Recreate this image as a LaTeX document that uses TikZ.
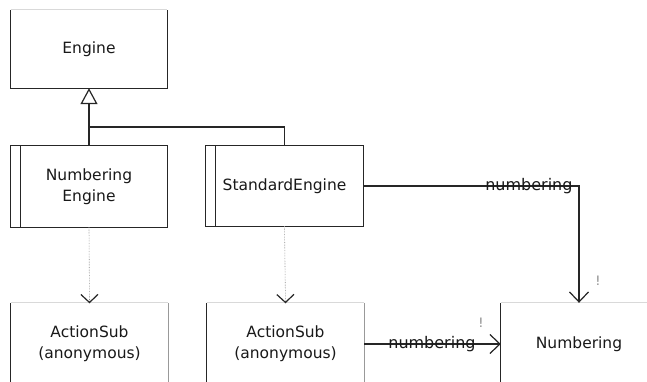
\documentclass[tikz,border=0pt]{standalone}
\usepackage{fontspec}
\setmainfont{DejaVu Sans}
\usetikzlibrary{arrows.meta}
\tikzset{
  x=1pt, y=-1pt,
  classbox/.style={draw=none, inner sep=0pt, align=center,
    font=\fontsize{15.5}{21}\selectfont, text=black!90},
  darkedge/.style={draw=black!85, line width=1.2pt},
  lightedge/.style={draw=black!15, line width=1.2pt},
  midedge/.style={draw=black!40, line width=1.2pt},
  link/.style={draw=black!85, line width=1.2pt},
  openv/.style={-{Straight Barb[length=10pt,width=19pt,line width=1.2pt,black!85]}},
  smallv/.style={-{Straight Barb[length=8pt,width=17pt,line width=1.2pt,black!85]}},
  deplink/.style={draw=black!45, line width=0.6pt, densely dotted},
  rolename/.style={inner sep=0pt, font=\fontsize{16}{19}\selectfont, text=black!90},
  multmark/.style={inner sep=0pt, font=\fontsize{13}{15}\selectfont, text=black!45},
}
\begin{document}
\begin{tikzpicture}
\useasboundingbox[fill=white] (0,0) rectangle (647,382);

% class boxes
\node[classbox, minimum width=156, minimum height=78] (eng) at (89,49) {Engine};
\node[classbox, minimum width=156, minimum height=81] (neng) at (89,186.5) {Numbering\\Engine};
\node[classbox, minimum width=157, minimum height=80] (seng) at (284.5,186) {StandardEngine};
\node[classbox, minimum width=157, minimum height=82] (asa) at (89.5,344) {ActionSub\\(anonymous)};
\node[classbox, minimum width=157, minimum height=82] (asb) at (285.5,344) {ActionSub\\(anonymous)};
\node[classbox, minimum width=156, minimum height=82] (num) at (579,344) {Numbering};

% box outlines
\draw[lightedge] (eng.north west) -- (eng.north east);
\draw[darkedge] (eng.north west) -- (eng.south west) -- (eng.south east) -- (eng.north east);

\draw[darkedge] (neng.north west) rectangle (neng.south east);
\draw[darkedge] ([xshift=10pt]neng.north west) -- ([xshift=10pt]neng.south west);

\draw[darkedge] (seng.north west) rectangle (seng.south east);
\draw[darkedge] ([xshift=10pt]seng.north west) -- ([xshift=10pt]seng.south west);

\foreach \b in {asa,asb} {
  \draw[lightedge] (\b.north west) -- (\b.north east);
  \draw[midedge] (\b.north east) -- (\b.south east);
  \draw[darkedge] (\b.north west) -- (\b.south west) -- (\b.south east);
}
\draw[lightedge] (num.north west) -- (num.north east);
\draw[darkedge] (num.north west) -- (num.south west) -- (num.south east);

% generalization
\coordinate (join) at (89,127);
\draw[link, -{Triangle[open,length=16pt,width=17pt,line width=1.2pt,fill=white]}] (neng.north) -- (eng.south);
\draw[link] (seng.north) |- (join);

% dependencies
\draw[deplink, smallv] (neng.south) -- ([yshift=-0.5pt]asa.north);
\draw[deplink, smallv] (seng.south) -- ([yshift=-0.5pt]asb.north);

% associations
\draw[link, openv] (seng.east) -| node[rolename, pos=0.384] {numbering} (num.north);
\node[multmark] (m1) at (598,281) {!};
\draw[link, openv] (asb.east) -- node[rolename, pos=0.496] {numbering} (num.west);
\node[multmark] (m2) at (481,323) {!};
\end{tikzpicture}
\end{document}
